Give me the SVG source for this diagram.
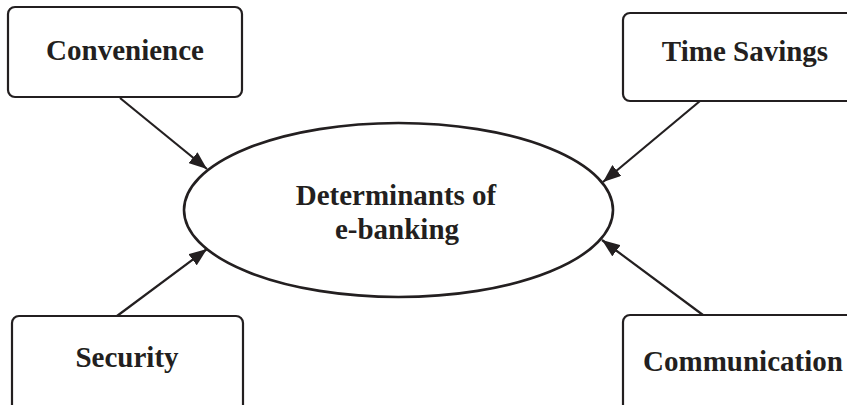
<svg xmlns="http://www.w3.org/2000/svg" width="847" height="405" viewBox="0 0 847 405">
<style>
.box{fill:#fff;stroke:#231f20;stroke-width:2.2}
.lbl{font-family:"Liberation Serif","Times New Roman",serif;font-weight:bold;font-size:29px;fill:#231f20;text-anchor:middle}
.conn{stroke:#231f20;stroke-width:2.2;fill:none;marker-end:url(#ah)}
</style>
<defs>
<marker id="ah" markerUnits="userSpaceOnUse" markerWidth="19" markerHeight="14" refX="18" refY="7" orient="auto">
<path d="M0,0 L18,7 L0,14 Z" fill="#231f20"/>
</marker>
</defs>
<rect width="847" height="405" fill="#fff"/>
<g id="connectors">
<line class="conn" x1="120" y1="98" x2="207" y2="169"/>
<line class="conn" x1="700" y1="101" x2="603" y2="182"/>
<line class="conn" x1="117" y1="316" x2="207" y2="249"/>
<line class="conn" x1="703" y1="315" x2="602" y2="240"/>
</g>
<g id="center">
<ellipse cx="398.5" cy="210" rx="214.5" ry="87" fill="#fff" stroke="#231f20" stroke-width="2.6"/>
<text class="lbl" x="396" y="205">Determinants of</text>
<text class="lbl" x="397" y="239">e-banking</text>
</g>
<g id="convenience">
<rect class="box" x="8" y="7" width="234" height="90" rx="7"/>
<text class="lbl" x="125" y="60">Convenience</text>
</g>
<g id="time-savings">
<rect class="box" x="623" y="13" width="244" height="88" rx="7"/>
<text class="lbl" x="745" y="61">Time Savings</text>
</g>
<g id="security">
<rect class="box" x="12" y="316" width="231" height="100" rx="7"/>
<text class="lbl" x="127" y="367">Security</text>
</g>
<g id="communication">
<rect class="box" x="623" y="315" width="244" height="100" rx="7"/>
<text class="lbl" x="743" y="371">Communication</text>
</g>
</svg>
